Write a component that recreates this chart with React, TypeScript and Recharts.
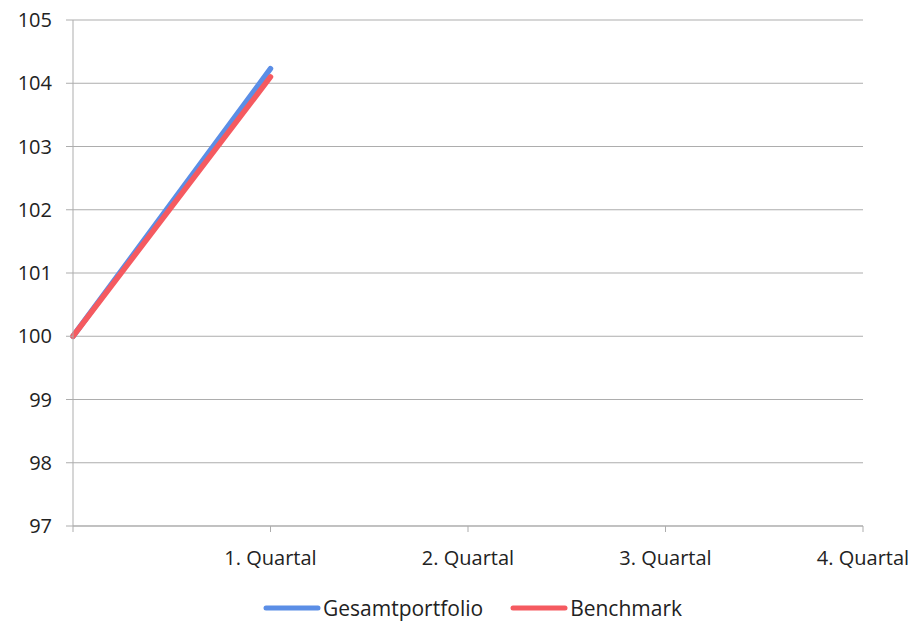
import { LineChart, Line, XAxis, YAxis, CartesianGrid } from "recharts";

const categories = ["", "1. Quartal", "2. Quartal", "3. Quartal", "4. Quartal"];
const gesamtportfolio = [100, 104.23, null, null, null];
const benchmark = [100, 104.1, null, null, null];
const yTicks = [97, 98, 99, 100, 101, 102, 103, 104, 105];

const BLUE = "#5B8EE6";
const RED = "#F55A60";
const GRID = "#ADADAD";
const FONT = "'Open Sans', sans-serif";

const data = categories.map((name, i) => ({
  name,
  gesamt: gesamtportfolio[i],
  bench: benchmark[i],
}));

const legendItems = [
  { label: "Gesamtportfolio", color: BLUE },
  { label: "Benchmark", color: RED },
];

export default function App() {
  return (
    <div style={{ position: "absolute", left: 0, top: 0, width: 915, height: 622, background: "#fff", fontFamily: FONT }}>
      <LineChart
        width={915}
        height={622}
        data={data}
        margin={{ top: 20, right: 52, left: 0, bottom: 66 }}
      >
        <CartesianGrid stroke={GRID} vertical={false} />
        <XAxis
          dataKey="name"
          interval={0}
          height={30}
          tickSize={6}
          tickMargin={19}
          stroke={GRID}
          tick={{ fontSize: 20, fill: "#222", fontFamily: FONT }}
        />
        <YAxis
          domain={[97, 105]}
          ticks={yTicks}
          width={73}
          tickSize={7}
          tickMargin={14}
          stroke={GRID}
          tick={{ fontSize: 20, fill: "#222", fontFamily: FONT }}
        />
        <Line
          dataKey="gesamt"
          stroke={BLUE}
          strokeWidth={5.5}
          strokeLinecap="round"
          dot={false}
          isAnimationActive={false}
        />
        <Line
          dataKey="bench"
          stroke={RED}
          strokeWidth={5.5}
          strokeLinecap="round"
          dot={false}
          isAnimationActive={false}
        />
      </LineChart>
      <div
        style={{
          position: "absolute",
          left: 30,
          top: 594,
          width: 885,
          display: "flex",
          justifyContent: "center",
          alignItems: "center",
          gap: 27,
          fontSize: 21,
          color: "#222",
        }}
      >
        {legendItems.map((it) => (
          <div key={it.label} style={{ display: "flex", alignItems: "center" }}>
            <svg width={58} height={10} style={{ marginRight: 2 }}>
              <line x1={3} y1={5} x2={55} y2={5} stroke={it.color} strokeWidth={5} strokeLinecap="round" />
            </svg>
            <span style={{ lineHeight: "28px" }}>{it.label}</span>
          </div>
        ))}
      </div>
    </div>
  );
}
